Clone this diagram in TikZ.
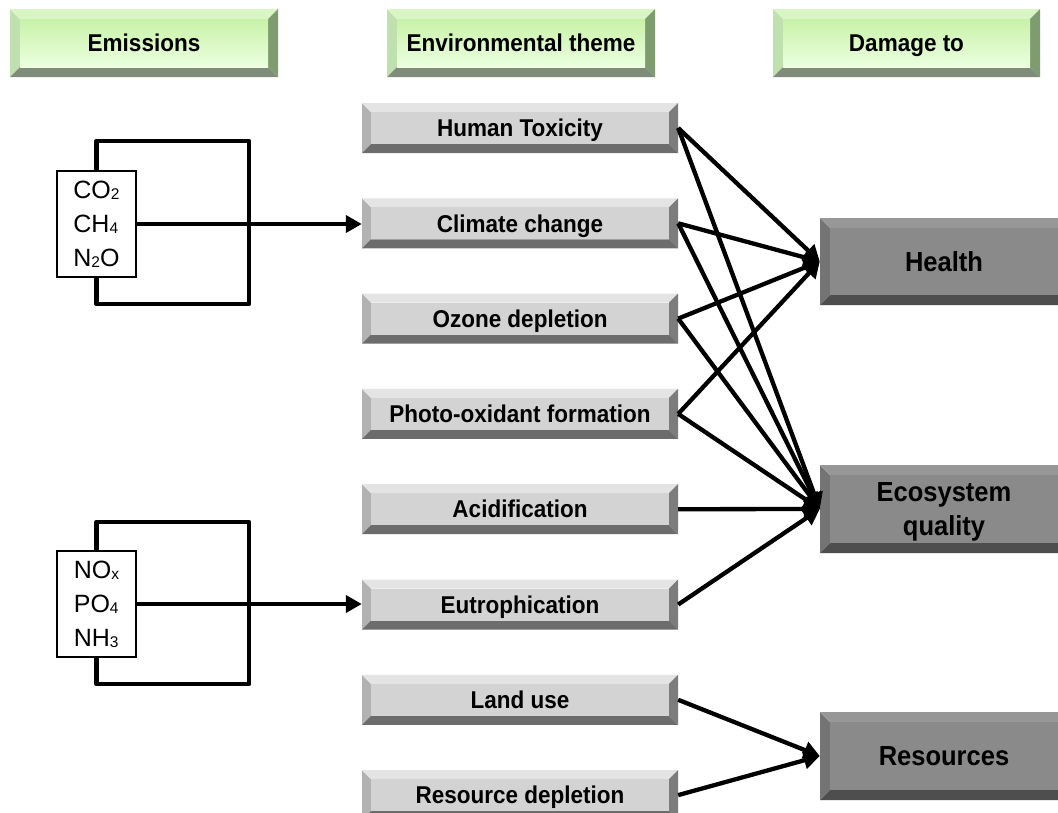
\documentclass[tikz,border=0pt]{standalone}
\usepackage{fontspec}
\setmainfont{Liberation Sans}
\usepackage{graphicx}
\usetikzlibrary{arrows.meta}
\definecolor{hdface1}{HTML}{C8F2A8}
\definecolor{hdface2}{HTML}{ECFFE0}
\definecolor{hdtopc}{HTML}{D8F6C4}
\definecolor{hdleftc}{HTML}{C0E0B0}
\definecolor{hdrightc}{HTML}{7E9C70}
\definecolor{hdbotc}{HTML}{808C7A}
\definecolor{thface}{HTML}{D3D3D3}
\definecolor{thtopc}{HTML}{E4E4E4}
\definecolor{thleftc}{HTML}{B2B2B2}
\definecolor{thrightc}{HTML}{7C7C7C}
\definecolor{thbotc}{HTML}{6C6C6C}
\definecolor{dmface}{HTML}{8A8A8A}
\definecolor{dmtopc}{HTML}{979797}
\definecolor{dmleftc}{HTML}{747474}
\definecolor{dmrightc}{HTML}{5C5C5C}
\definecolor{dmbotc}{HTML}{4E4E4E}
\newcommand\tall[1]{\scalebox{1}[1.08]{#1}}
\newcommand\lowsub[1]{\raisebox{-1pt}{\fontsize{15.5}{15.5}\selectfont #1}}
% #1 name, #2 x1, #3 y1, #4 x2, #5 y2, #6 bevel, #7 style prefix, #8 text
\newcommand\bevelbox[8]{%
  \fill[#7l] (#2,#3) -- (#2+#6,#3+#6) -- (#2+#6,#5-#6) -- (#2,#5) -- cycle;
  \fill[#7t] (#2,#3) -- (#4,#3) -- (#4-#6,#3+#6) -- (#2+#6,#3+#6) -- cycle;
  \fill[#7r] (#4,#3) -- (#4,#5) -- (#4-#6,#5-#6) -- (#4-#6,#3+#6) -- cycle;
  \fill[#7b] (#2,#5) -- (#4,#5) -- (#4-#6,#5-#6) -- (#2+#6,#5-#6) -- cycle;
  \path[#7f] (#2+#6,#3+#6) rectangle (#4-#6,#5-#6);
  \node[#7txt, minimum width={(#4-#2)*1pt}, minimum height={(#5-#3)*1pt}] (#1) at ({(#2+#4)/2},{(#3+#5)/2}) {#8};
}
\tikzset{
  hdl/.style={fill=hdleftc}, hdt/.style={fill=hdtopc}, hdr/.style={fill=hdrightc}, hdb/.style={fill=hdbotc},
  hdf/.style={top color=hdface1, bottom color=hdface2},
  hdtxt/.style={inner sep=0pt, font=\fontsize{22.5}{27}\selectfont\bfseries, text height=17.4pt, text depth=0pt},
  thl/.style={fill=thleftc}, tht/.style={fill=thtopc}, thr/.style={fill=thrightc}, thb/.style={fill=thbotc},
  thf/.style={fill=thface},
  thtxt/.style={inner sep=0pt, font=\fontsize{22.5}{27}\selectfont\bfseries, text height=17.4pt, text depth=0pt},
  dml/.style={fill=dmleftc}, dmt/.style={fill=dmtopc}, dmr/.style={fill=dmrightc}, dmb/.style={fill=dmbotc},
  dmf/.style={fill=dmface},
  dmtxt/.style={inner sep=0pt, font=\fontsize{25.5}{34}\selectfont\bfseries, text height=19.7pt, text depth=0pt},
  arr/.style={line width=4.3pt, -{Triangle[length=16pt,width=17pt]}},
  bracket/.style={line width=4.5pt, line join=round},
  embox/.style={draw, line width=1.3pt, fill=white, minimum width=79pt, minimum height=106pt,
    inner sep=0pt, align=left, font=\fontsize{25}{34}\selectfont}
}
\begin{document}
\begin{tikzpicture}[x=1pt,y=-1pt]
\fill[white] (0,0) rectangle (1058,812);
\useasboundingbox (0,0) rectangle (1058,812);
\clip (0,0) rectangle (1058,812);

% headers
\bevelbox{hEm}{10}{9}{278}{77}{10}{hd}{\tall{Emissions}}
\bevelbox{hEnv}{387}{9}{655}{77}{10}{hd}{\tall{Environmental theme}}
\bevelbox{hDam}{773}{9}{1040}{77}{10}{hd}{\tall{Damage to}}

% themes
\bevelbox{ht}{362}{103}{678}{153}{9}{th}{\tall{Human Toxicity}}
\bevelbox{cc}{362}{198.3}{678}{248.3}{9}{th}{\tall{Climate change}}
\bevelbox{oz}{362}{293.6}{678}{343.6}{9}{th}{\tall{Ozone depletion}}
\bevelbox{po}{362}{388.9}{678}{438.9}{9}{th}{\tall{Photo-oxidant formation}}
\bevelbox{ac}{362}{484.2}{678}{534.2}{9}{th}{\tall{Acidification}}
\bevelbox{eu}{362}{579.5}{678}{629.5}{9}{th}{\tall{Eutrophication}}
\bevelbox{lu}{362}{674.8}{678}{724.8}{9}{th}{\tall{Land use}}
\bevelbox{rd}{362}{770.1}{678}{820.1}{9}{th}{\tall{Resource depletion}}

% damage
\bevelbox{he}{820}{218}{1068}{305}{10}{dm}{\tall{Health}}
\bevelbox{eq}{820}{465}{1068}{553}{10}{dm}{\raisebox{17pt}{\begin{tabular}[t]{@{}c@{}}\tall{Ecosystem}\\\tall{quality}\end{tabular}}}
\bevelbox{rs}{820}{712}{1068}{800}{10}{dm}{\tall{Resources}}

% emissions groups
\coordinate (b1a) at (249,141);
\coordinate (b1b) at (249,304);
\coordinate (b2a) at (249,522);
\coordinate (b2b) at (249,684);
\draw[bracket] (96.5,171) |- (b1a) -- (b1b) -| (96.5,277);
\draw[bracket] (96.5,551) |- (b2a) -- (b2b) -| (96.5,657);
\node[embox] (em1) at (96.5,224) {CO\lowsub{2}\\CH\lowsub{4}\\N\lowsub{2}O};
\node[embox] (em2) at (96.5,604) {NO\lowsub{x}\\PO\lowsub{4}\\NH\lowsub{3}};

\draw[arr] (em1.east) -- (em1.east -| cc.west);
\draw[arr] (em2.east) -- (em2.east -| eu.west);

% theme -> damage
\foreach \t in {ht,cc,oz,po}{
  \draw[arr] (\t.east) -- (he.west);
  \draw[arr] (\t.east) -- (eq.west);
}
\draw[arr] (ac.east) -- (eq.west);
\draw[arr] (eu.east) -- (eq.west);
\draw[arr] (lu.east) -- (rs.west);
\draw[arr] (rd.east) -- (rs.west);
\end{tikzpicture}
\end{document}
